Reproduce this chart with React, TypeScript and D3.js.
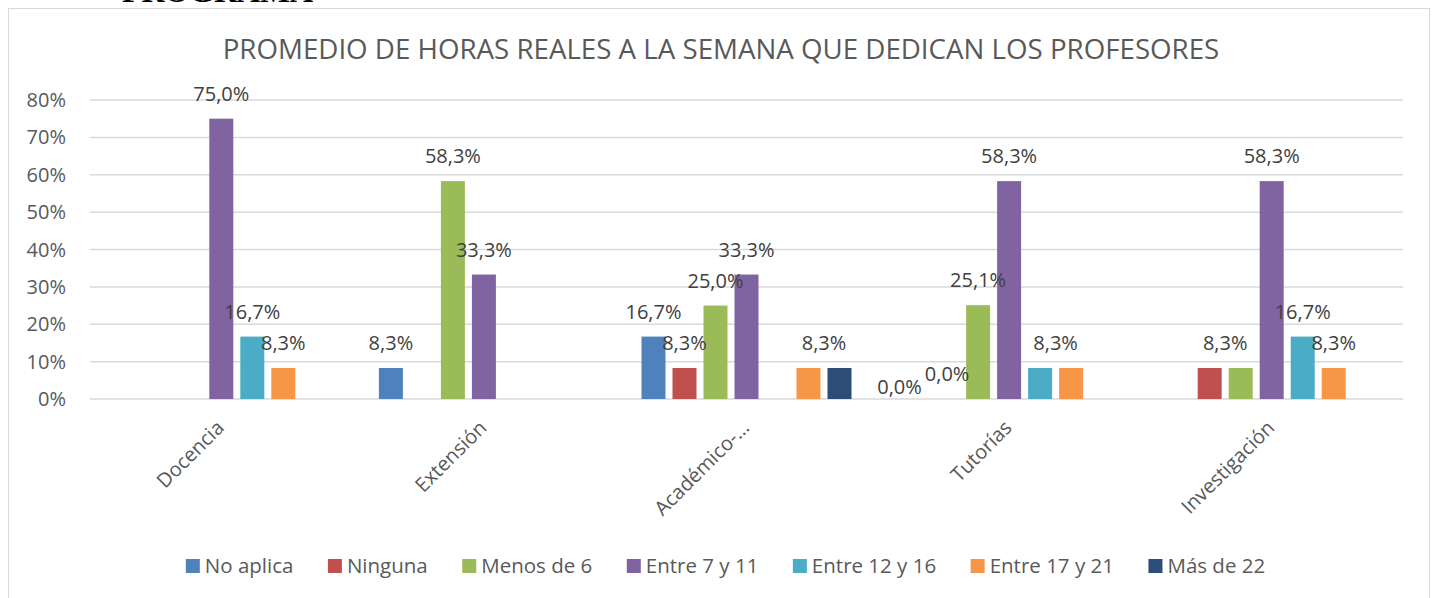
import React, { useMemo } from "react";
import * as d3 from "d3";

// categories (x axis)
const categories = ["Docencia", "Extensión", "Académico-…", "Tutorías", "Investigación"];

// series names, as in the legend
const seriesNames = ["No aplica", "Ninguna", "Menos de 6", "Entre 7 y 11", "Entre 12 y 16", "Entre 17 y 21", "Más de 22"];

// values in %, null = empty cell (no bar, no label)
const noAplica = [null, 8.3, 16.7, 0.0, null];
const ninguna = [null, null, 8.3, 0.0, 8.3];
const menosDe6 = [null, 58.3, 25.0, 25.1, 8.3];
const entre7y11 = [75.0, 33.3, 33.3, 58.3, 58.3];
const entre12y16 = [16.7, null, null, 8.3, 16.7];
const entre17y21 = [8.3, null, 8.3, 8.3, 8.3];
const masDe22 = [null, null, 8.3, null, null];

const yTicks = [0, 10, 20, 30, 40, 50, 60, 70, 80];

const colors = ["#4F81BD", "#C0504D", "#9BBB59", "#8064A2", "#4BACC6", "#F79646", "#2C4D75"];

const W = 1434;
const H = 598;
const FONT = "'Open Sans', sans-serif";
const TXT = "#595959";

let ctx: CanvasRenderingContext2D | null = null;
function textWidth(s: string, size: number) {
  if (!ctx) ctx = document.createElement("canvas").getContext("2d");
  ctx!.font = `${size}px 'Open Sans'`;
  return ctx!.measureText(s).width;
}

const fmt = (v: number) => v.toFixed(1).replace(".", ",") + "%";

export default function App() {
  const allSeries = [noAplica, ninguna, menosDe6, entre7y11, entre12y16, entre17y21, masDe22];

  const margin = { left: 90, right: 1403, top: 100, bottom: 399 };

  const x0 = d3.scaleBand().domain(categories).range([margin.left, margin.right]);
  const x1 = d3.scaleBand()
    .domain(seriesNames)
    .range([0, x0.bandwidth()])
    .paddingInner(0.226)
    .paddingOuter(0.848);
  const y = d3.scaleLinear().domain([0, 80]).range([margin.bottom, margin.top]);

  const labelSize = 20;

  // data labels: centred above each bar, equal neighbours share one label,
  // and labels on the same line that collide are pushed apart
  const labels = useMemo(() => {
    const out: { x: number; y: number; text: string }[] = [];
    categories.forEach((c, ci) => {
      const row: { x: number; y: number; text: string; w: number }[] = [];
      let si = 0;
      while (si < seriesNames.length) {
        const v = allSeries[si][ci];
        if (v == null) { si++; continue; }
        const cx = x0(c)! + x1(seriesNames[si])! + x1.bandwidth() / 2;
        const next = si + 1 < seriesNames.length ? allSeries[si + 1][ci] : null;
        if (v > 0 && next === v) {
          const cx2 = cx + x1.step();
          row.push({ x: (cx + cx2) / 2, y: y(v) - 18, text: fmt(v), w: textWidth(fmt(v), labelSize) });
          si += 2;
        } else {
          row.push({ x: cx, y: y(v) - 18, text: fmt(v), w: textWidth(fmt(v), labelSize) });
          si++;
        }
      }
      for (let i = row.length - 2; i >= 0; i--) {
        const a = row[i], b = row[i + 1];
        if (Math.abs(a.y - b.y) < 2 && a.x + a.w / 2 > b.x - b.w / 2) {
          a.x = b.x - b.w / 2 - 3 - a.w / 2;
          a.y += 13;
        }
      }
      row.forEach(r => out.push(r));
    });
    return out;
  }, []);

  // legend layout
  const legendSize = 20.5;
  const sq = 14;
  const items = seriesNames.map(n => ({ n, w: sq + 5 + textWidth(n, legendSize) }));
  const gap = 34.5;
  const totalW = d3.sum(items, d => d.w) + gap * (items.length - 1);
  let lx = 725.5 - totalW / 2;
  const legendPos = items.map(it => {
    const p = lx;
    lx += it.w + gap;
    return p;
  });

  const title = "PROMEDIO DE HORAS REALES A LA SEMANA QUE DEDICAN LOS PROFESORES";

  return (
    <svg width={W} height={H} style={{ position: "absolute", left: 0, top: 0, background: "#fff" }} fontFamily={FONT}>
      <text x={122} y={2} fontFamily="'Liberation Serif', serif" fontWeight="bold" fontSize={31} fill="#000"
        textLength={191} lengthAdjust="spacingAndGlyphs">PROGRAMA</text>
      <rect x={8.5} y={8.5} width={1421} height={H} fill="#fff" stroke="#d9d9d9" />

      <text x={721} y={59} textAnchor="middle" fontSize={27.7} fill={TXT}>{title}</text>

      {yTicks.map(t => (
        <g key={t}>
          <line x1={margin.left} x2={margin.right} y1={y(t)} y2={y(t)} stroke="#d9d9d9" strokeWidth={1.5} />
          <text x={66} y={y(t) + 7} textAnchor="end" fontSize={20} fill={TXT}>{t}%</text>
        </g>
      ))}

      {allSeries.map((vals, si) =>
        vals.map((v, ci) =>
          v == null || v === 0 ? null : (
            <rect key={`${si}-${ci}`}
              x={x0(categories[ci])! + x1(seriesNames[si])!}
              y={y(v)}
              width={x1.bandwidth()}
              height={y(0) - y(v)}
              fill={colors[si]} />
          )
        )
      )}

      {labels.map((l, i) => (
        <text key={i} x={l.x} y={l.y} textAnchor="middle" fontSize={labelSize} fill="#404040">{l.text}</text>
      ))}

      {categories.map(c => {
        const cx = x0(c)! + x0.bandwidth() / 2 + 4;
        const cy = margin.bottom + 30;
        return (
          <text key={c} x={cx} y={cy} textAnchor="end" fontSize={20} fill={TXT}
            transform={`rotate(-45, ${cx}, ${cy})`}>{c}</text>
        );
      })}

      {seriesNames.map((n, i) => (
        <g key={n} transform={`translate(${legendPos[i]}, 559)`}>
          <rect width={sq} height={sq} fill={colors[i]} />
          <text x={sq + 5} y={14} fontSize={legendSize} fill={TXT}>{n}</text>
        </g>
      ))}
    </svg>
  );
}
